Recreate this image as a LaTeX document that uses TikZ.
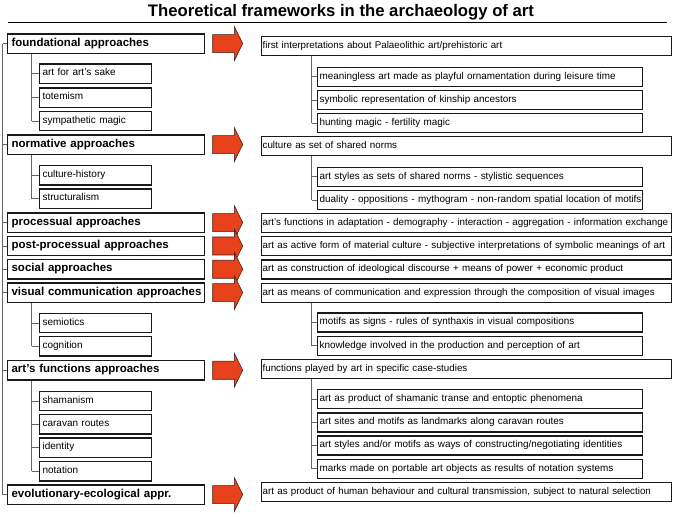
\documentclass[tikz,border=0pt]{standalone}
\usepackage{fontspec}
\setmainfont{Liberation Sans}
\definecolor{arrowred}{RGB}{232,66,28}
\definecolor{arrowline}{RGB}{70,30,20}
\definecolor{boxline}{RGB}{25,25,25}
\definecolor{connline}{RGB}{100,100,100}
\begin{document}
\begin{tikzpicture}[x=1pt,y=-1pt,
  box/.style={draw=boxline, line width=1.2pt, fill=white, rectangle, anchor=north west,
    inner ysep=0pt, minimum height=19.3pt, align=left,
    execute at begin node={\hbox\bgroup\strut}, execute at end node={\egroup}},
  mainbox/.style={box, text width=189pt, inner xsep=4pt, font=\bfseries\fontsize{11.5}{13.4}\selectfont},
  subbox/.style={box, text width=105.4pt, inner xsep=3.3pt, font=\fontsize{10}{12}\selectfont},
  rbox/.style={box, text width=407.7pt, inner xsep=1.3pt, minimum height=19pt, font=\fontsize{9.8}{12}\selectfont},
  rsubbox/.style={box, text width=320.4pt, inner xsep=2.3pt, minimum height=19pt, font=\fontsize{9.9}{12}\selectfont},
  conn/.style={draw=connline, line width=0.9pt},
  bigarrow/.style={draw=arrowline, fill=arrowred, line width=0.6pt, line join=miter}
]
\useasboundingbox (0,0) rectangle (673,517);

% title
\node[anchor=base, font=\bfseries\fontsize{16.7}{19}\selectfont] (title) at (341,16) {Theoretical frameworks in the archaeology of art};
\coordinate (ruleL) at (8,22.3);
\coordinate (ruleR) at (667,22.3);
\draw[line width=1.6pt, black] (ruleL) -- (ruleR);

% left main boxes
\node[mainbox] (found) at (7,33.3) {foundational approaches};
\node[mainbox] (norm) at (7,134.3) {normative approaches};
\node[mainbox] (proc) at (7,212.3) {processual approaches};
\node[mainbox] (post) at (7,235.7) {post-processual approaches};
\node[mainbox] (soc) at (7,259) {social approaches};
\node[mainbox] (vis) at (7,282.3) {visual communication approaches};
\node[mainbox] (func) at (7,360) {art's functions approaches};
\node[mainbox] (evol) at (7,484.3) {evolutionary-ecological appr.};

% left sub boxes
\node[subbox] (afa) at (38.7,63.3) {art for art's sake};
\node[subbox] (tot) at (38.7,87.3) {totemism};
\node[subbox] (sym) at (38.7,110.7) {sympathetic magic};
\node[subbox] (cult) at (38.7,165) {culture-history};
\node[subbox] (struc) at (38.7,188.3) {structuralism};
\node[subbox] (semi) at (38.7,312.7) {semiotics};
\node[subbox] (cogn) at (38.7,336) {cognition};
\node[subbox] (sham) at (38.7,390.7) {shamanism};
\node[subbox] (car) at (38.7,414) {caravan routes};
\node[subbox] (iden) at (38.7,437.3) {identity};
\node[subbox] (nota) at (38.7,461) {notation};

% right main boxes
\node[rbox] (rfound) at (260.7,36) {first interpretations about Palaeolithic art/prehistoric art};
\node[rbox] (rnorm) at (260.7,136) {culture as set of shared norms};
\node[rbox] (rproc) at (260.7,212.7) {art's functions in adaptation - demography - interaction - aggregation - information exchange};
\node[rbox] (rpost) at (260.7,236) {art as active form of material culture - subjective interpretations of symbolic meanings of art};
\node[rbox] (rsoc) at (260.7,259.3) {art as construction of ideological discourse + means of power + economic product};
\node[rbox] (rvis) at (260.7,282.5) {art as means of communication and expression through the composition of visual images};
\node[rbox] (rfunc) at (260.7,358.7) {functions played by art in specific case-studies};
\node[rbox] (revol) at (260.7,482) {art as product of human behaviour and cultural transmission, subject to natural selection};

% right sub boxes
\node[rsubbox] (rmean) at (316.7,66.7) {meaningless art made as playful ornamentation during leisure time};
\node[rsubbox] (rsymb) at (316.7,90) {symbolic representation of kinship ancestors};
\node[rsubbox] (rhunt) at (316.7,113) {hunting magic - fertility magic};
\node[rsubbox] (rstyl) at (316.7,166.7) {art styles as sets of shared norms - stylistic sequences};
\node[rsubbox] (rdual) at (316.7,190) {duality - oppositions - mythogram - non-random spatial location of motifs};
\node[rsubbox] (rmotif) at (316.7,312.3) {motifs as signs - rules of synthaxis in visual compositions};
\node[rsubbox] (rknow) at (316.7,335.7) {knowledge involved in the production and perception of art};
\node[rsubbox] (rshamt) at (316.7,389) {art as product of shamanic transe and entoptic phenomena};
\node[rsubbox] (rsites) at (316.7,412.3) {art sites and motifs as landmarks along caravan routes};
\node[rsubbox] (rident) at (316.7,435.3) {art styles and/or motifs as ways of constructing/negotiating identities};
\node[rsubbox] (rmarks) at (316.7,458.7) {marks made on portable art objects as results of notation systems};

% trunk coordinates
\coordinate (tr) at (2.7,0);
\coordinate (st) at (31.7,0);
\coordinate (rt) at (311.7,0);

% left main trunk
\draw[conn] (found.west -| tr) -- (evol.west -| tr);
\foreach \n in {found,norm,proc,post,soc,vis,func,evol}
  \draw[conn] (\n.west -| tr) -- (\n.west);

% left sub trunks
\draw[conn] (found.south -| st) -- (sym.west -| st);
\draw[conn] (norm.south -| st) -- (struc.west -| st);
\draw[conn] (vis.south -| st) -- (cogn.west -| st);
\draw[conn] (func.south -| st) -- (nota.west -| st);
\foreach \n in {afa,tot,sym,cult,struc,semi,cogn,sham,car,iden,nota}
  \draw[conn] (\n.west -| st) -- (\n.west);

% right sub trunks
\draw[conn] (rfound.south -| rt) -- (rhunt.west -| rt);
\draw[conn] (rnorm.south -| rt) -- (rdual.west -| rt);
\draw[conn] (rvis.south -| rt) -- (rknow.west -| rt);
\draw[conn] (rfunc.south -| rt) -- (rmarks.west -| rt);
\foreach \n in {rmean,rsymb,rhunt,rstyl,rdual,rmotif,rknow,rshamt,rsites,rident,rmarks}
  \draw[conn] (\n.west -| rt) -- (\n.west);

% block arrows
\coordinate (ax) at (212.7,0);
\foreach \n in {found,norm,proc,post,soc,vis,func,evol}
  \draw[bigarrow] (\n.west -| ax) ++(0,-9) -- ++(21.6,0) -- ++(0,-8) -- ++(8.4,17)
    -- ++(-8.4,17) -- ++(0,-8) -- ++(-21.6,0) -- cycle;
\end{tikzpicture}
\end{document}
